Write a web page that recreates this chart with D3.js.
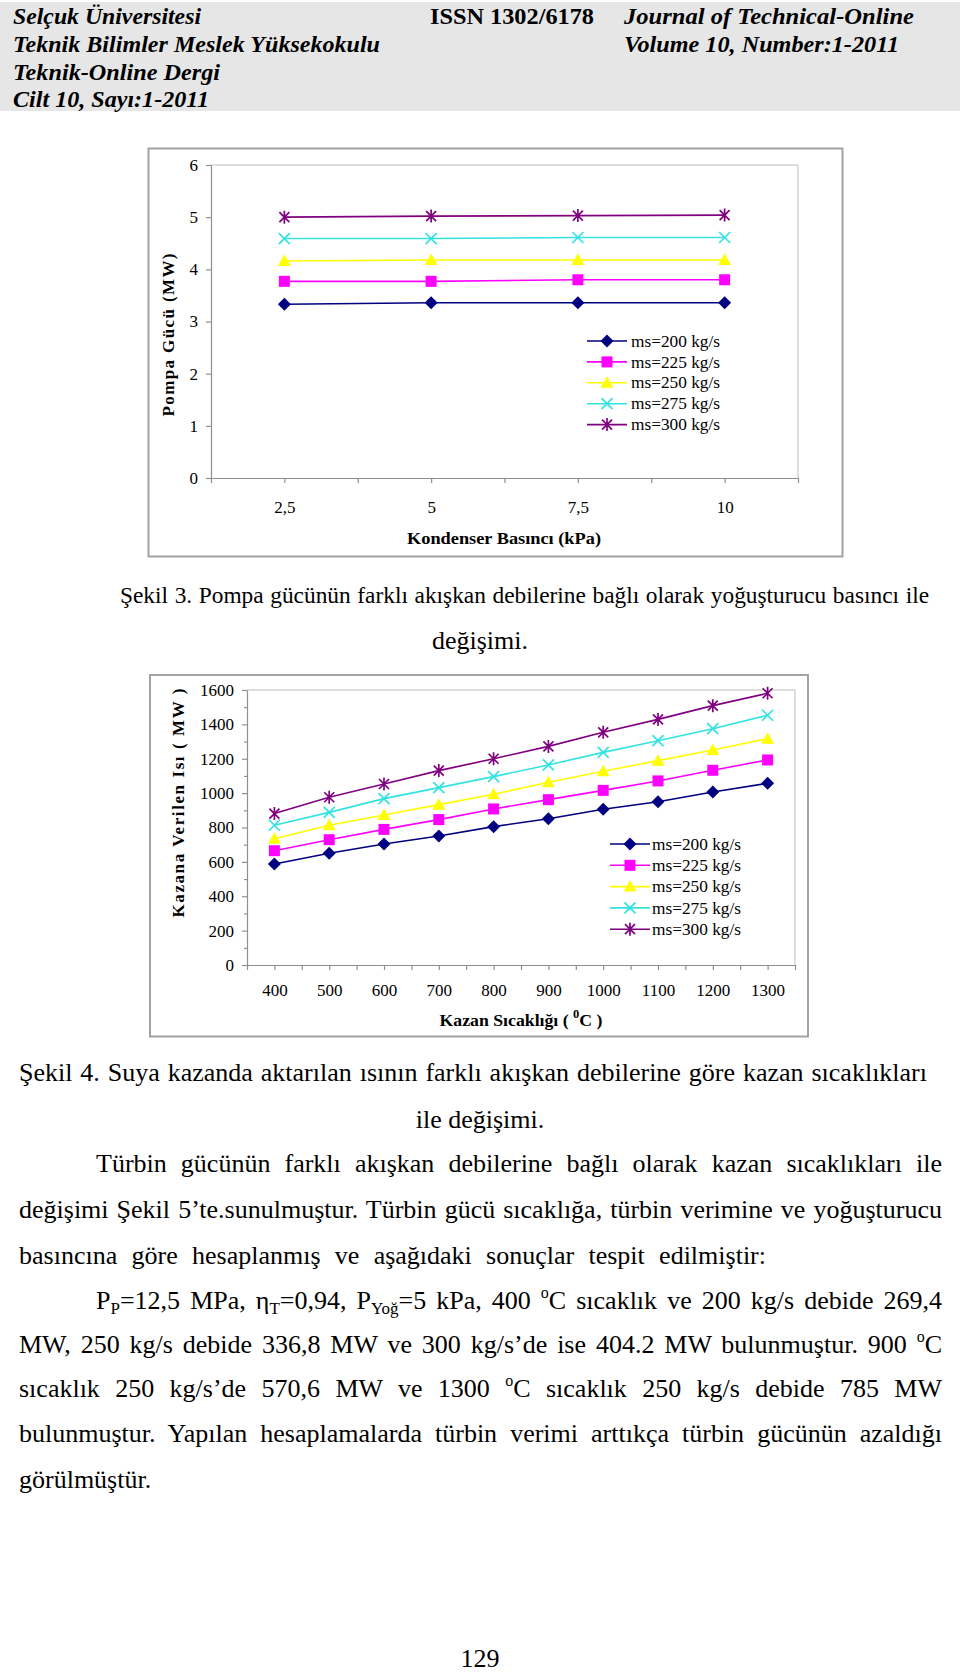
<!DOCTYPE html>
<html>
<head>
<meta charset="utf-8">
<script src="https://cdn.jsdelivr.net/npm/d3@7"></script>
<style>
  body { margin: 0; background: #fff; }
  svg { display: block; }
  text { font-family: "Liberation Serif", "Times New Roman", serif; fill: #000; }
</style>
</head>
<body>
<svg id="page" width="960" height="1674"></svg>
<script>
// ---- data ----
const flowNames = ["ms=200 kg/s", "ms=225 kg/s", "ms=250 kg/s", "ms=275 kg/s", "ms=300 kg/s"];

// Şekil 3: pump power (MW) vs condenser pressure (kPa)
const pressureLabels = ["2,5", "5", "7,5", "10"];
const pump200 = [3.33, 3.36, 3.36, 3.36];
const pump225 = [3.77, 3.77, 3.80, 3.80];
const pump250 = [4.16, 4.18, 4.18, 4.18];
const pump275 = [4.59, 4.59, 4.61, 4.61];
const pump300 = [5.00, 5.02, 5.03, 5.04];
const pumpTicks = [0, 1, 2, 3, 4, 5, 6];

// Şekil 4: heat given to boiler (MW) vs boiler temperature (°C)
const tempLabels = ["400", "500", "600", "700", "800", "900", "1000", "1100", "1200", "1300"];
const heat200 = [588, 650, 704, 751, 805, 851, 906, 950, 1007, 1057];
const heat225 = [665, 729, 789, 846, 908, 962, 1016, 1071, 1133, 1193];
const heat250 = [735, 813, 873, 933, 993, 1063, 1127, 1189, 1251, 1317];
const heat275 = [813, 888, 968, 1032, 1096, 1164, 1237, 1305, 1375, 1453];
const heat300 = [881, 976, 1053, 1131, 1200, 1272, 1354, 1429, 1509, 1581];
const heatTicks = [0, 200, 400, 600, 800, 1000, 1200, 1400, 1600];
const heatMinor = [100, 300, 500, 700, 900, 1100, 1300, 1500];

// series look
const seriesColor = ["#000080", "#ff00ff", "#ffff00", "#33e3e3", "#800080"];
const seriesMark = ["diamond", "square", "triangle", "cross", "star"];

const svg = d3.select("#page");

// ---- page header ----
svg.append("rect").attr("x", 0).attr("y", 2).attr("width", 960).attr("height", 109).attr("fill", "#e6e6e6");

function headText(str, x, y, w, italic) {
  svg.append("text").attr("x", x).attr("y", y)
    .attr("font-size", 23).attr("font-weight", "bold")
    .attr("font-style", italic ? "italic" : "normal")
    .attr("textLength", w).attr("lengthAdjust", "spacingAndGlyphs")
    .text(str);
}
headText("Selçuk Üniversitesi", 13, 24, 188, true);
headText("Teknik Bilimler Meslek Yüksekokulu", 13, 52, 367, true);
headText("Teknik-Online Dergi", 13, 80, 207, true);
headText("Cilt 10, Sayı:1-2011", 13, 107, 196, true);
headText("ISSN 1302/6178", 430, 24, 164, false);
headText("Journal of  Technical-Online", 624, 24, 290, true);
headText("Volume 10, Number:1-2011", 624, 52, 275, true);

// ---- markers ----
function drawMark(g, type, color) {
  if (type === "diamond") {
    g.append("path").attr("d", "M0,-6.5L6.5,0L0,6.5L-6.5,0Z").attr("fill", color);
  } else if (type === "square") {
    g.append("rect").attr("x", -5.5).attr("y", -5.5).attr("width", 11).attr("height", 11).attr("fill", color);
  } else if (type === "triangle") {
    g.append("path").attr("d", "M0,-6.5L6.5,5L-6.5,5Z").attr("fill", color);
  } else if (type === "cross") {
    g.append("path").attr("d", "M-5.5,-5.5L5.5,5.5M-5.5,5.5L5.5,-5.5")
      .attr("stroke", color).attr("stroke-width", 1.7).attr("fill", "none");
  } else {
    g.append("path").attr("d", "M-5,-5L5,5M-5,5L5,-5M0,-6.5L0,6.5")
      .attr("stroke", color).attr("stroke-width", 1.7).attr("fill", "none");
  }
}

// ---- chart ----
function drawChart(c) {
  const g = svg.append("g");

  g.append("rect").attr("x", c.frame[0]).attr("y", c.frame[1])
    .attr("width", c.frame[2]).attr("height", c.frame[3])
    .attr("fill", "#fff").attr("stroke", "#a3a3a3").attr("stroke-width", 2);

  const x = d3.scalePoint().domain(c.labels).range([c.left, c.right]).padding(0.5);
  const xi = d3.scaleLinear().domain([0, c.labels.length]).range([c.left, c.right]);
  const y = d3.scaleLinear().domain(c.yDomain).range([c.bottom, c.top]);

  // plot area border (top and right)
  g.append("path")
    .attr("d", `M${c.left},${c.top}H${c.right}V${c.bottom}`)
    .attr("fill", "none").attr("stroke", "#bdbdbd").attr("stroke-width", 1);

  // y axis
  const ya = g.append("g").attr("transform", `translate(${c.left},0)`)
    .call(d3.axisLeft(y).tickValues(c.yTicks).tickFormat(d => String(d))
      .tickSize(5).tickSizeOuter(0).tickPadding(8));
  if (c.yMinor) {
    g.append("g").attr("transform", `translate(${c.left},0)`)
      .call(d3.axisLeft(y).tickValues(c.yMinor).tickSize(3).tickFormat(""))
      .call(a => a.select(".domain").remove())
      .selectAll("line").attr("stroke", "#8f8f8f").attr("stroke-width", 1.2);
  }
  // x axis, ticks at category edges and centres
  const halfSteps = d3.range(0, c.labels.length + 0.01, 0.5);
  const xa = g.append("g").attr("transform", `translate(0,${c.bottom})`)
    .call(d3.axisBottom(xi).tickValues(halfSteps).tickSize(5).tickSizeOuter(0)
      .tickFormat(v => (v % 1 === 0.5 ? c.labels[Math.floor(v)] : "")));

  [ya, xa].forEach(a => {
    a.selectAll("path, line").attr("stroke", "#8f8f8f").attr("stroke-width", 1.2);
    a.selectAll("text").attr("font-family", "Liberation Serif").attr("font-size", 17).attr("fill", "#000");
  });
  xa.selectAll("text").attr("y", c.xLabelY - c.bottom).attr("dy", 0);

  // series
  c.series.forEach((vals, si) => {
    const pts = vals.map((v, i) => [x(c.labels[i]), y(v)]);
    g.append("path").attr("d", d3.line()(pts))
      .attr("fill", "none").attr("stroke", seriesColor[si]).attr("stroke-width", 1.6);
    pts.forEach(p => drawMark(g.append("g").attr("transform", `translate(${p[0]},${p[1]})`), seriesMark[si], seriesColor[si]));
  });

  // legend
  flowNames.forEach((name, si) => {
    const ly = c.legend.y0 + si * c.legend.dy;
    g.append("line").attr("x1", c.legend.x0).attr("x2", c.legend.x1).attr("y1", ly).attr("y2", ly)
      .attr("stroke", seriesColor[si]).attr("stroke-width", 1.6);
    drawMark(g.append("g").attr("transform", `translate(${(c.legend.x0 + c.legend.x1) / 2},${ly})`), seriesMark[si], seriesColor[si]);
    g.append("text").attr("x", c.legend.tx).attr("y", ly).attr("dy", "0.33em")
      .attr("font-size", 17).attr("textLength", 89).attr("lengthAdjust", "spacingAndGlyphs")
      .text(name);
  });

  // axis titles
  const xt = g.append("text").attr("x", c.xTitle.x).attr("y", c.xTitle.y)
    .attr("text-anchor", "middle").attr("font-size", 17).attr("font-weight", "bold")
    .attr("textLength", c.xTitle.w).attr("lengthAdjust", "spacingAndGlyphs");
  c.xTitle.parts(xt);

  g.append("text").attr("transform", `translate(${c.yTitle.x},${c.yTitle.y}) rotate(-90)`)
    .attr("text-anchor", "middle").attr("dy", "0.35em")
    .attr("font-size", 17).attr("font-weight", "bold")
    .attr("textLength", c.yTitle.w).attr("lengthAdjust", "spacing")
    .text(c.yTitle.text);
}

drawChart({
  frame: [148.5, 148.5, 694, 408],
  left: 211, right: 798, top: 165, bottom: 478,
  labels: pressureLabels, yDomain: [0, 6], yTicks: pumpTicks, yMinor: null,
  xLabelY: 513,
  series: [pump200, pump225, pump250, pump275, pump300],
  legend: { x0: 587, x1: 627, tx: 631, y0: 341, dy: 20.9 },
  xTitle: { x: 504, y: 544, w: 194, parts: t => t.text("Kondenser Basıncı  (kPa)") },
  yTitle: { x: 168, y: 335, w: 163, text: "Pompa Gücü (MW)" }
});

drawChart({
  frame: [150, 675, 658, 361.5],
  left: 247, right: 795, top: 690, bottom: 965,
  labels: tempLabels, yDomain: [0, 1600], yTicks: heatTicks, yMinor: heatMinor,
  xLabelY: 996,
  series: [heat200, heat225, heat250, heat275, heat300],
  legend: { x0: 610, x1: 650, tx: 652, y0: 844, dy: 21.3 },
  xTitle: { x: 521, y: 1026, w: 163, parts: t => {
    t.append("tspan").text("Kazan Sıcaklığı ( ");
    t.append("tspan").attr("font-size", 12).attr("dy", -8).text("0");
    t.append("tspan").attr("dy", 8).text("C )");
  } },
  yTitle: { x: 178, y: 803, w: 229, text: "Kazana Verilen Isı  ( MW )" }
});

// ---- body text ----
const FS = 26;
function line(parts, x, y, opts) {
  opts = opts || {};
  const t = svg.append("text").attr("x", x).attr("y", y).attr("font-size", FS)
    .attr("text-anchor", opts.anchor || "start");
  let back = 0;
  parts.forEach(p => {
    if (typeof p === "string") {
      t.append("tspan").attr("dy", back).text(p);
      back = 0;
    } else if (p.sub) {
      t.append("tspan").attr("font-size", 17).attr("dy", 5).text(p.sub);
      back = -5;
    } else if (p.sup) {
      t.append("tspan").attr("font-size", 16).attr("dy", -11).text(p.sup);
      back = 11;
    }
  });
  if (opts.w) {
    let n = t.node().getComputedTextLength();
    if (n > opts.w) {
      // shrink the line a little so it fits, then justify with word spacing
      t.attr("font-size", FS * opts.w / n * 0.99);
      n = t.node().getComputedTextLength();
    }
    const spaces = (t.text().match(/ /g) || []).length;
    if (spaces) t.style("word-spacing", ((opts.w - n) / spaces) + "px");
  }
  return t;
}

line(["Şekil 3. Pompa gücünün farklı akışkan debilerine bağlı olarak yoğuşturucu basıncı ile"], 120, 603, { w: 809 });
line(["değişimi."], 480, 649, { anchor: "middle" });
line(["Şekil 4. Suya kazanda aktarılan ısının farklı akışkan debilerine göre kazan sıcaklıkları"], 19, 1081, { w: 908 });
line(["ile değişimi."], 480, 1128, { anchor: "middle" });
line(["Türbin gücünün farklı akışkan debilerine bağlı olarak kazan sıcaklıkları ile"], 96, 1172, { w: 846 });
line(["değişimi Şekil 5’te.sunulmuştur. Türbin gücü sıcaklığa, türbin verimine ve yoğuşturucu"], 19, 1218, { w: 923 });
line(["basıncına göre hesaplanmış ve aşağıdaki sonuçlar tespit edilmiştir:"], 19, 1264, { w: 747 });
line(["P", { sub: "P" }, "=12,5 MPa, η", { sub: "T" }, "=0,94, P", { sub: "Yoğ" }, "=5 kPa, 400 ", { sup: "o" },
      "C sıcaklık ve 200 kg/s debide 269,4"], 96, 1309, { w: 846 });
line(["MW, 250 kg/s debide 336,8 MW ve 300 kg/s’de ise 404.2 MW bulunmuştur. 900 ", { sup: "o" }, "C"], 19, 1353, { w: 923 });
line(["sıcaklık 250 kg/s’de 570,6 MW ve 1300 ", { sup: "o" }, "C sıcaklık 250 kg/s debide 785 MW"], 19, 1397, { w: 923 });
line(["bulunmuştur. Yapılan hesaplamalarda türbin verimi arttıkça türbin gücünün azaldığı"], 19, 1442, { w: 923 });
line(["görülmüştür."], 19, 1488);
line(["129"], 480, 1667, { anchor: "middle" });
</script>
</body>
</html>
